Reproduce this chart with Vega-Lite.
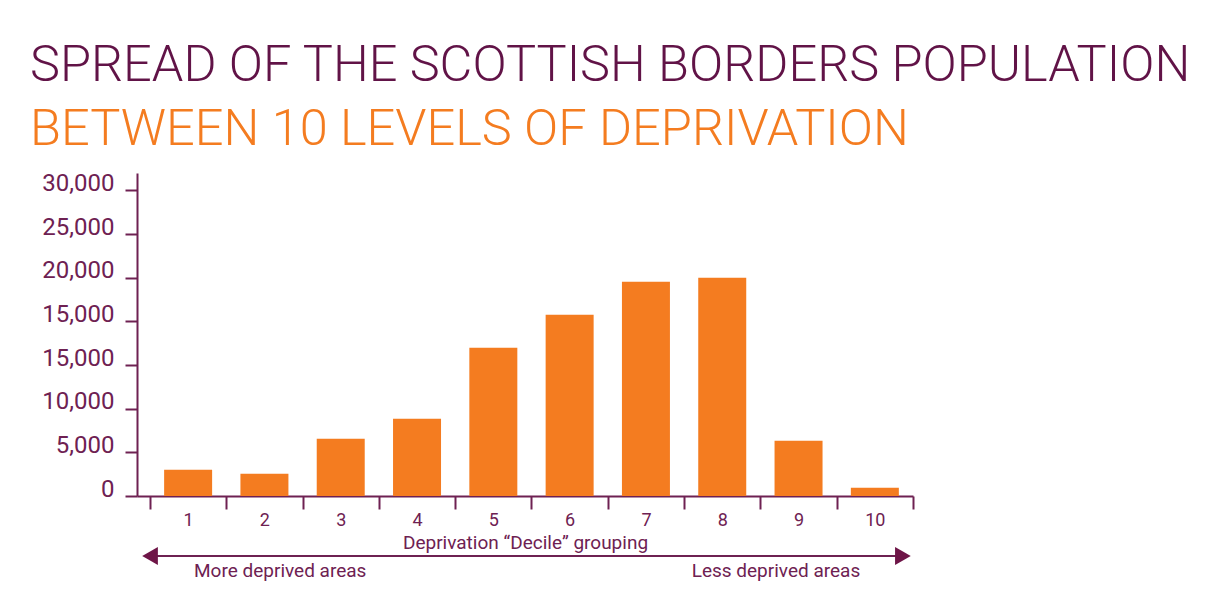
{
  "$schema": "https://vega.github.io/schema/vega-lite/v6.json",
  "description": "Spread of the Scottish Borders population between 10 levels of deprivation",
  "width": 776,
  "height": 323,
  "autosize": {"type": "none"},
  "padding": {"left": 137, "top": 173, "right": 302, "bottom": 93},
  "background": "white",
  "title": {
    "text": "SPREAD OF THE SCOTTISH BORDERS POPULATION",
    "subtitle": "BETWEEN 10 LEVELS OF DEPRIVATION",
    "anchor": "start",
    "frame": "group",
    "dx": -107,
    "offset": 16,
    "font": "Roboto",
    "fontSize": 50.5,
    "fontWeight": 300,
    "color": "#611347",
    "subtitleFont": "Roboto",
    "subtitleFontSize": 50.5,
    "subtitleFontWeight": 300,
    "subtitleColor": "#F47C20",
    "subtitlePadding": 13.5
  },
  "resolve": {"scale": {"x": "independent"}, "axis": {"x": "independent"}},
  "layer": [
    {
      "data": {
        "values": [
          {"decile": "1", "population": 3010},
          {"decile": "2", "population": 2550},
          {"decile": "3", "population": 6560},
          {"decile": "4", "population": 8850},
          {"decile": "5", "population": 16980},
          {"decile": "6", "population": 20760},
          {"decile": "7", "population": 24540},
          {"decile": "8", "population": 25000},
          {"decile": "9", "population": 6330},
          {"decile": "10", "population": 950}
        ]
      },
      "mark": {"type": "bar", "color": "#F47C20", "width": {"band": 0.629}},
      "encoding": {
        "x": {
          "field": "decile",
          "type": "ordinal",
          "sort": null,
          "scale": {"paddingInner": 0, "paddingOuter": 0.085, "align": 1},
          "axis": {
            "title": "Deprivation \u201cDecile\u201d grouping",
            "labelAngle": 0,
            "tickBand": "extent",
            "tickSize": 13,
            "labelPadding": 2,
            "labelFontSize": 18,
            "titleFontSize": 19,
            "titlePadding": 4
          }
        },
        "y": {
          "field": "population",
          "type": "quantitative",
          "scale": {"domain": [0, 37000], "nice": false},
          "axis": {
            "title": null,
            "values": [0, 5000, 10000, 15000, 20000, 25000, 30000, 35000],
            "labelExpr": "datum.value == 35000 ? '30,000' : datum.value == 30000 ? '25,000' : datum.value == 25000 ? '20,000' : datum.value == 20000 ? '15,000' : format(datum.value, ',')",
            "labelBaseline": "alphabetic",
            "labelFontSize": 24,
            "labelPadding": 11,
            "tickSize": 12,
            "grid": false
          }
        }
      }
    },
    {
      "data": {"values": [{}]},
      "mark": {"type": "rule", "color": "#6e2152", "strokeWidth": 2},
      "encoding": {
        "x": {"datum": 0.017, "type": "quantitative", "scale": {"domain": [0, 1]}, "axis": null},
        "x2": {"datum": 0.987},
        "y": {"datum": -6870, "type": "quantitative"}
      }
    },
    {
      "data": {"values": [{"end": "left", "pos": 0.0168}, {"end": "right", "pos": 0.987}]},
      "mark": {"type": "point", "filled": true, "opacity": 1, "color": "#6e1547", "size": 330},
      "encoding": {
        "x": {"field": "pos", "type": "quantitative", "scale": {"domain": [0, 1]}, "axis": null},
        "y": {"datum": -6870, "type": "quantitative"},
        "shape": {
          "field": "end",
          "type": "nominal",
          "scale": {"domain": ["left", "right"], "range": ["triangle-left", "triangle-right"]},
          "legend": null
        }
      }
    },
    {
      "data": {"values": [{"label": "More deprived areas", "pos": 0.0735}]},
      "mark": {"type": "text", "fontSize": 19, "color": "#6e2152", "font": "Roboto", "baseline": "alphabetic", "align": "left"},
      "encoding": {
        "x": {"field": "pos", "type": "quantitative", "scale": {"domain": [0, 1]}, "axis": null},
        "y": {"datum": -9276, "type": "quantitative"},
        "text": {"field": "label"}
      }
    },
    {
      "data": {"values": [{"label": "Less deprived areas", "pos": 0.932}]},
      "mark": {"type": "text", "fontSize": 19, "color": "#6e2152", "font": "Roboto", "baseline": "alphabetic", "align": "right"},
      "encoding": {
        "x": {"field": "pos", "type": "quantitative", "scale": {"domain": [0, 1]}, "axis": null},
        "y": {"datum": -9276, "type": "quantitative"},
        "text": {"field": "label"}
      }
    }
  ],
  "config": {
    "view": {"stroke": null},
    "font": "Roboto",
    "axis": {
      "labelFont": "Roboto",
      "titleFont": "Roboto",
      "labelColor": "#6e2152",
      "titleColor": "#6e2152",
      "titleFontWeight": "normal",
      "domainColor": "#6e2152",
      "tickColor": "#6e2152",
      "domainWidth": 2,
      "tickWidth": 2
    }
  }
}
